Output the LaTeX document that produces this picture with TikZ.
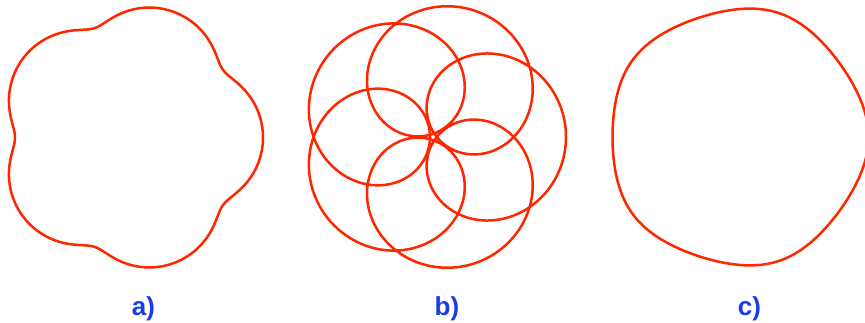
\documentclass[tikz,border=0pt]{standalone}
\usepackage{fontspec}
\setmainfont{Liberation Sans}
\definecolor{curvered}{RGB}{255,38,0}
\definecolor{labblue}{RGB}{25,60,235}
\begin{document}
\begin{tikzpicture}[x=1pt,y=-1pt,
  curve/.style={draw=curvered,line width=2.5pt,line join=round},
  lab/.style={text=labblue,font=\fontsize{26}{26}\selectfont\bfseries,anchor=base,inner sep=0pt}]
\clip (0,0) rectangle (865,323);
\fill[white] (0,0) rectangle (865,323);
% a) epitrochoid with a small sixth harmonic
\draw[curve] plot[domain=0:360,samples=721,variable=\t]
  ({130+124*cos(\t)+9*cos(6*\t)},{137.5+124*sin(\t)+9*sin(6*\t)}) -- cycle;
% b) nearly equal amplitudes
\draw[curve] plot[domain=0:360,samples=1441,variable=\t]
  ({433+68*cos(\t)+65*cos(6*\t)},{137+68*sin(\t)+65*sin(6*\t)}) -- cycle;
% c) hypotrochoid with a small harmonic
\draw[curve] plot[domain=0:360,samples=721,variable=\t]
  ({738+128*cos(\t)+2.5*cos(4*\t)},{137+128*sin(\t)-2.5*sin(4*\t)}) -- cycle;
\node[lab] (la) at (143.5,315) {a)};
\node[lab] (lb) at (447,315) {b)};
\node[lab] (lc) at (749.5,315) {c)};
\end{tikzpicture}
\end{document}
